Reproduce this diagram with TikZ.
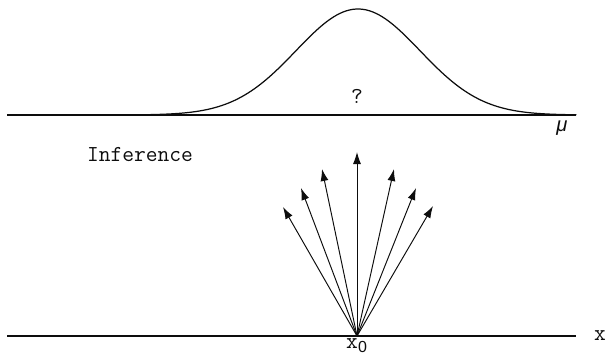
\documentclass[tikz,border=0pt]{standalone}
\usepackage{fontspec}
\newfontfamily\musans{Liberation Sans}
\usetikzlibrary{arrows.meta}
\definecolor{InferInk}{gray}{0.05}
\tikzset{
    infer/diagram/.style={
        font=\ttfamily\fontsize{13}{15}\selectfont,
        draw=InferInk,
        text=InferInk,
        line width=0.55pt,
        line cap=round,
        line join=round,
        every node/.style={inner sep=1pt}
    },
    infer/axis/.style={draw=InferInk, line width=0.75pt, line cap=butt},
    infer/curve/.style={draw=InferInk, line width=0.7pt},
    infer/ray/.style={
        draw=InferInk, line width=0.55pt,
        -{Latex[length=2.4mm, width=1.6mm]}
    }
}
\begin{document}
\begin{tikzpicture}[infer/diagram, x=0.02cm, y=-0.02cm]
    \useasboundingbox (0,0) rectangle (608,356);
    % parameter axis with the posterior bump
    \draw[infer/axis] (7,115) -- (576,115);
    \draw[infer/curve, domain=120:576, samples=140, smooth]
        plot (\x,{115-106*exp(-((\x-358)/62)^2/2)});
    \node (qmark) at (357,96) {?};
    \node (mu) at (562,128) {\musans\itshape\fontsize{11.5}{13}\selectfont μ};
    \node (infer) at (140,155) {Inference};
    % data axis and the fan of rays
    \draw[infer/axis] (7,336) -- (576,336);
    \node (xlab) at (600,336) {x};
    \node (xzero) at (357,346) {x\textsubscript{\musans 0}};
    \coordinate (origin) at (357,336);
    \foreach \name/\tx/\ty in {a/283/207, b/301/188, c/322/169, d/357/152,
                               e/394/169, f/416/188, g/433/206} {
        \coordinate (tip-\name) at (\tx,\ty);
        \draw[infer/ray] (origin) -- (tip-\name);
    }
\end{tikzpicture}
\end{document}
